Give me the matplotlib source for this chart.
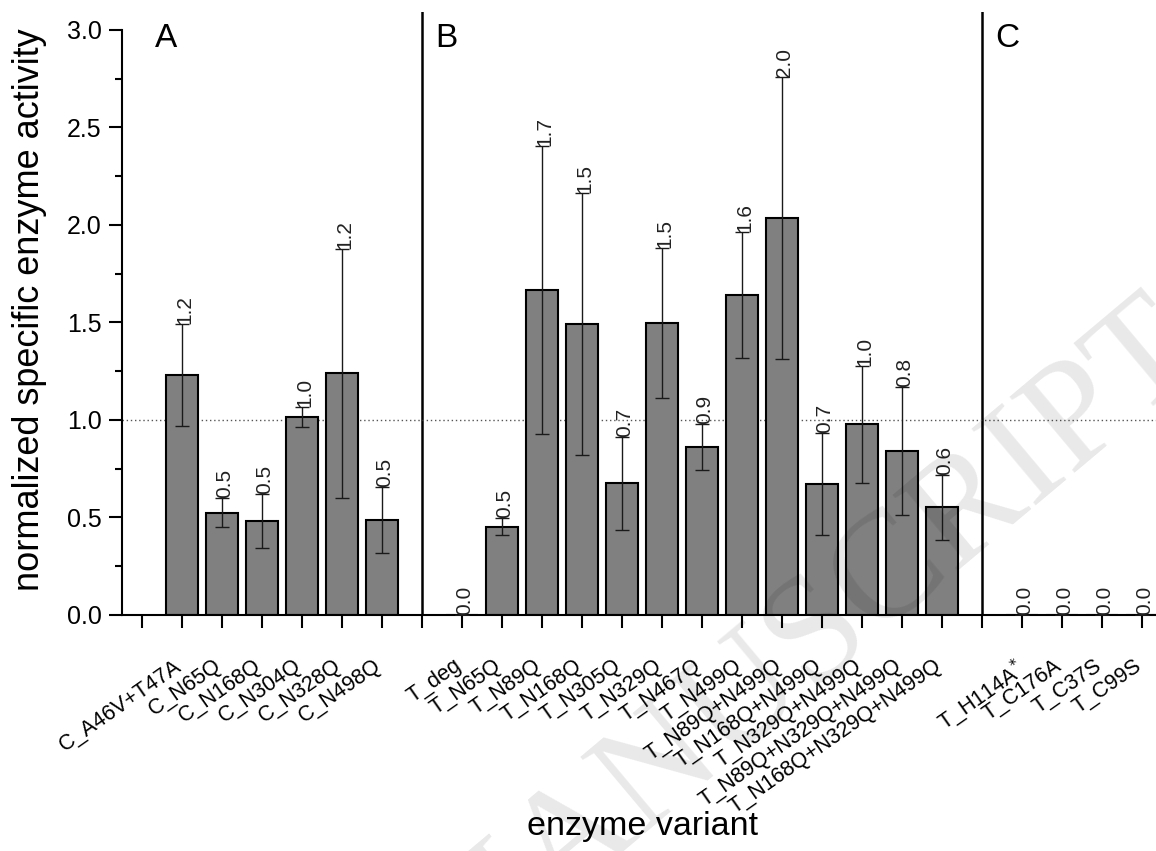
import matplotlib.pyplot as plt
import numpy as np

plt.rcParams['font.family'] = ['Liberation Sans', 'DejaVu Sans']

# A: C-варианты
variants_a = ['C_A46V+T47A', 'C_N65Q', 'C_N168Q', 'C_N304Q', 'C_N328Q', 'C_N498Q']
activity_a = [1.23, 0.525, 0.482, 1.014, 1.239, 0.489]
error_a = [0.26, 0.073, 0.137, 0.052, 0.64, 0.169]

# B: T-варианты
variants_b = ['T_deg', 'T_N65Q', 'T_N89Q', 'T_N168Q', 'T_N305Q', 'T_N329Q', 'T_N467Q',
              'T_N499Q', 'T_N89Q+N499Q', 'T_N168Q+N499Q', 'T_N329Q+N499Q',
              'T_N89Q+N329Q+N499Q', 'T_N168Q+N329Q+N499Q']
activity_b = [0.0, 0.453, 1.667, 1.492, 0.675, 1.496, 0.86, 1.641, 2.034, 0.67, 0.979, 0.841, 0.552]
error_b = [0.0, 0.044, 0.738, 0.67, 0.24, 0.385, 0.117, 0.323, 0.723, 0.262, 0.30, 0.326, 0.168]

# C: неактивные варианты
variants_c = ['T_H114A$^{*}$', 'T_C176A', 'T_C37S', 'T_C99S']
activity_c = [0.0, 0.0, 0.0, 0.0]
error_c = [0.0, 0.0, 0.0, 0.0]

groups = [(variants_a, activity_a, error_a, 'A'),
          (variants_b, activity_b, error_b, 'B'),
          (variants_c, activity_c, error_c, 'C')]

fig = plt.figure(figsize=(11.56, 8.51), dpi=100)
ax = fig.add_axes([122 / 1156, 236 / 851, 1034 / 1156, 602.6 / 851])

tick_pos = [0]
lab_pos = []
lab_txt = []
start = 1
for names, vals, errs, letter in groups:
    pos = np.arange(start, start + len(names))
    ax.bar(pos, vals, width=0.8, color='#808080', edgecolor='black', linewidth=1.5, zorder=2)
    ax.errorbar(pos, vals, yerr=errs, fmt='none', ecolor='#1a1a1a', elinewidth=1,
                capsize=4.7, capthick=1, zorder=3)
    for x, v, e in zip(pos, vals, errs):
        ax.text(x + 0.06, v + e, f'{v:.1f}', rotation=90, ha='center', va='bottom',
                fontsize=15, color='#222222', zorder=4)
    # буква панели
    ax.text(start - 1 + 0.32, 2.913, letter, fontsize=24, va='baseline', ha='left')
    tick_pos += list(pos)
    lab_pos += list(pos - 0.22)
    lab_txt += names
    if start > 1:
        ax.axvline(start - 1, color='black', lw=1.8, zorder=1)
    start = pos[-1] + 1
    if start < 26:
        tick_pos.append(start)
    start += 1

ax.axhline(1.0, color='#555555', ls=(0, (1, 2)), lw=1, zorder=1)

ax.set_xlim(-0.5, 25.35)
ax.set_ylim(0, 3.09)
# метки делений без подписей, подписи чуть левее (как в оригинале)
ax.set_xticks(tick_pos)
ax.set_xticklabels([])
ax.set_xticks(lab_pos, lab_txt, minor=True, rotation=35, ha='right',
              rotation_mode='anchor', fontsize=15.5)
ax.set_yticks(np.arange(0, 3.01, 0.5))
ax.set_yticklabels([f'{t:.1f}' for t in np.arange(0, 3.01, 0.5)], fontsize=18)
ax.set_yticks(np.arange(0.25, 3.0, 0.5), minor=True)
ax.tick_params(axis='x', which='major', direction='out', length=9, width=1.5)
ax.tick_params(axis='x', which='minor', length=0, pad=29)
ax.tick_params(axis='y', which='major', direction='out', length=9.5, width=1.5, pad=5)
ax.tick_params(axis='y', which='minor', direction='out', length=5, width=1.5)

for side in ['top', 'right']:
    ax.spines[side].set_visible(False)
for side in ['left', 'bottom']:
    ax.spines[side].set_linewidth(1.5)
ax.spines['left'].set_bounds(0, 3.0)

ax.set_ylabel('normalized specific enzyme activity', fontsize=26)
ax.yaxis.set_label_coords(-0.0725, 0.506)
ax.set_xlabel('enzyme variant', fontsize=24.5)
ax.xaxis.set_label_coords(0.503, -0.325)

# водяной знак
fig.text(1.045, 0.575, 'ACCEPTED MANUSCRIPT', rotation=40, rotation_mode='anchor',
         ha='right', va='baseline', fontsize=110, family='Liberation Serif',
         color='black', alpha=0.09, zorder=10)

fig.savefig('out.png', dpi=100)
